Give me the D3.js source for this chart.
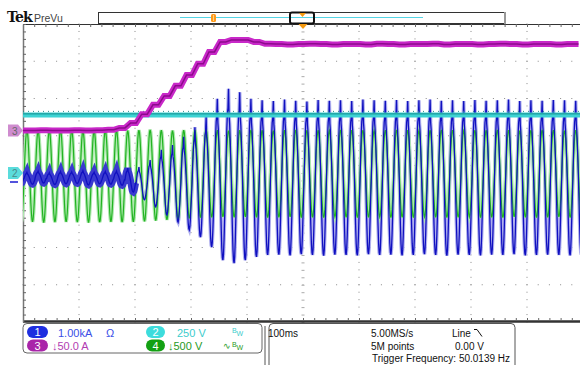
<!DOCTYPE html>
<html>
<head>
<meta charset="utf-8">
<script src="https://cdn.jsdelivr.net/npm/d3@7"></script>
<style>
  body { margin: 0; background: #fff; }
  svg { display: block; font-family: "Liberation Sans", Arial, sans-serif; }
</style>
</head>
<body>
<svg id="scope" width="580" height="365"></svg>
<script>
// ---- data (vertical values in divisions, time in ms) ----
const cycleMs = 20;            // 50 Hz
const firstCycleStart = -18;   // ms, cycle 0 starts just left of the screen

// one cycle of each waveform, normalised to -1 (trough) .. 1 (crest)
const blueShape  = [0, 0.3, 0.55, 0.72, 0.78, 1.0, 0.7, 0.6, 0.42, 0.2, -0.05, -0.35, -0.62, -0.85, -0.97, -1.0, -0.93, -0.75, -0.5, -0.25];
const greenShape = [0, 0.31, 0.59, 0.81, 0.95, 1, 0.95, 0.81, 0.59, 0.31, 0, -0.31, -0.59, -0.81, -0.95, -1, -0.95, -0.81, -0.59, -0.31];

// ch1 (blue) crest / trough per cycle
const blueHi = [0.04, 0.02, 0.05, 0.01, 0.04, 0.03, 0.06, 0.02, 0.04, 0.05,
  0.13, 0.16, 0.35, 0.62, 0.75, 0.97, 1.23, 1.50, 1.99, 2.26, 2.17, 1.99,
  1.95, 1.93, 1.97, 1.94, 1.92, 1.96, 1.94, 1.95, 1.93, 1.97, 1.95, 1.94, 1.96, 1.93, 1.95,
  1.97, 1.94, 1.95, 1.93, 1.96, 1.94, 1.95, 1.97, 1.93, 1.95, 1.94, 1.96, 1.95, 1.94];
const blueLo = [-0.28, -0.30, -0.27, -0.31, -0.29, -0.28, -0.32, -0.29, -0.30, -0.33,
  -0.51, -0.72, -0.91, -1.13, -1.32, -1.53, -1.72, -1.99, -2.34, -2.42, -2.34, -2.25,
  -2.20, -2.19, -2.21, -2.18, -2.20, -2.22, -2.19, -2.20, -2.21, -2.18, -2.20, -2.19, -2.21, -2.20, -2.18,
  -2.20, -2.22, -2.19, -2.20, -2.21, -2.19, -2.20, -2.18, -2.21, -2.20, -2.19, -2.20, -2.21, -2.19];

// ch4 (green) crest / trough per cycle
const greenHi = [1.15, 1.16, 1.14, 1.15, 1.16, 1.15, 1.14, 1.15, 1.16, 1.15,
  1.14, 1.15, 1.16, 1.15, 1.14, 1.15, 1.15, 1.16, 1.15, 1.14, 1.15, 1.16,
  1.15, 1.14, 1.15, 1.16, 1.15, 1.15, 1.14, 1.16, 1.15, 1.15, 1.14, 1.15, 1.16, 1.15, 1.14,
  1.15, 1.16, 1.15, 1.14, 1.15, 1.15, 1.16, 1.15, 1.14, 1.15, 1.16, 1.15, 1.14, 1.15];
const greenLo = [-1.32, -1.31, -1.33, -1.32, -1.31, -1.32, -1.33, -1.32, -1.31, -1.32,
  -1.31, -1.30, -1.28, -1.26, -1.24, -1.22, -1.20, -1.19, -1.18, -1.19, -1.18, -1.19,
  -1.20, -1.19, -1.18, -1.20, -1.19, -1.20, -1.18, -1.19, -1.20, -1.19, -1.18, -1.20, -1.19, -1.20, -1.18,
  -1.19, -1.20, -1.19, -1.18, -1.20, -1.19, -1.20, -1.18, -1.19, -1.20, -1.19, -1.18, -1.20, -1.19];

// ch3 (magenta) level reached in each cycle
const magentaLevel = [1.14, 1.14, 1.15, 1.14, 1.14, 1.15, 1.14, 1.15, 1.16,
  1.21, 1.34, 1.58, 1.83, 2.07, 2.34, 2.63, 2.93, 3.25, 3.52, 3.57, 3.57, 3.52, 3.47,
  3.46, 3.45, 3.46, 3.47, 3.46, 3.45, 3.46, 3.46, 3.45, 3.47, 3.46, 3.45, 3.46, 3.46,
  3.47, 3.45, 3.46, 3.46, 3.45, 3.46, 3.47, 3.46, 3.45, 3.46, 3.46, 3.45, 3.46, 3.46];

// ch2 (cyan) DC level
const cyanTime  = [0, 1000];
const cyanLevel = [1.56, 1.56];

// readouts
const chanNums   = ['1', '2', '3', '4'];
const chanScales = ['1.00kA', '250 V', '\u219350.0 A', '\u2193500 V'];
const horizText  = ['100ms', '5.00MS/s', '5M points', 'Line', '0.00 V', 'Trigger Frequency: 50.0139 Hz'];

// ---- scales ----
const svg = d3.select('#scope');
const x = d3.scaleLinear().domain([0, 1000]).range([23, 583]);
const y = d3.scaleLinear().domain([-4, 4]).range([322, 24]);

svg.append('defs').append('clipPath').attr('id', 'plot')
  .append('rect').attr('x', 23).attr('y', 24).attr('width', 560).attr('height', 298);

// ---- graticule ----
const grid = svg.append('g');
const minorT = d3.range(0, 1001, 20);
const minorV = d3.range(-4, 4.001, 0.2);
d3.range(100, 1000, 100).filter(t => t !== 500).forEach(t => {
  grid.selectAll(null).data(minorV).enter().append('rect')
    .attr('x', x(t) - 0.5).attr('y', v => y(v) - 0.5).attr('width', 1).attr('height', 1).attr('fill', '#8a8a8a');
});
d3.range(-3, 4, 1).filter(v => v !== 0).forEach(v => {
  grid.selectAll(null).data(minorT).enter().append('rect')
    .attr('x', t => x(t) - 0.5).attr('y', y(v) - 0.5).attr('width', 1).attr('height', 1).attr('fill', '#8a8a8a');
});
// centre cross ticks
grid.append('g').attr('transform', `translate(0,${y(0) - 1.5})`)
  .call(d3.axisBottom(x).tickValues(minorT).tickSize(3).tickFormat('').tickSizeOuter(0))
  .call(g => g.select('.domain').remove())
  .selectAll('line').attr('stroke', '#aaa');
grid.append('g').attr('transform', `translate(${x(500) - 1.5},0)`)
  .call(d3.axisRight(y).tickValues(minorV).tickSize(3).tickFormat('').tickSizeOuter(0))
  .call(g => g.select('.domain').remove())
  .selectAll('line').attr('stroke', '#aaa');
// edges
grid.append('g').attr('transform', 'translate(0,24)')
  .call(d3.axisBottom(x).tickValues(minorT).tickSize(3).tickFormat('').tickSizeOuter(0))
  .call(g => g.select('.domain').attr('stroke', '#333'))
  .selectAll('line').attr('stroke', '#666');
grid.append('g').attr('transform', 'translate(0,321)')
  .call(d3.axisTop(x).tickValues(minorT).tickSize(3).tickFormat('').tickSizeOuter(0))
  .call(g => g.select('.domain').attr('stroke', '#333').attr('stroke-width', 2.5))
  .selectAll('line').attr('stroke', '#666');
grid.append('g').attr('transform', 'translate(23,0)')
  .call(d3.axisRight(y).tickValues(minorV).tickSize(3).tickFormat('').tickSizeOuter(0))
  .call(g => g.select('.domain').attr('stroke', '#777').attr('stroke-width', 1.5))
  .selectAll('line').attr('stroke', '#666');

// ---- traces ----
function wavePoints(hi, lo, shape) {
  const pts = [];
  hi.forEach((h, k) => {
    const t0 = firstCycleStart + k * cycleMs;
    shape.forEach((s, i) => {
      pts.push([t0 + i * cycleMs / shape.length, lo[k] + (s + 1) / 2 * (h - lo[k])]);
    });
  });
  return pts;
}
function stepPoints(levels) {
  const pts = [];
  levels.forEach((L, k) => {
    const t0 = firstCycleStart + k * cycleMs;
    const prev = k > 0 ? levels[k - 1] : L;
    pts.push([t0, prev], [t0 + cycleMs / 2, L]);
  });
  return pts;
}
const line = d3.line().x(d => x(d[0])).y(d => y(d[1]));
const traces = svg.append('g').attr('clip-path', 'url(#plot)').attr('fill', 'none');

const bluePts = wavePoints(blueHi, blueLo, blueShape);
const greenPts = wavePoints(greenHi, greenLo, greenShape);
const earlyBlue = bluePts.slice(0, 11 * blueShape.length);

traces.append('path').attr('d', line(bluePts)).attr('stroke', '#b0b0ee').attr('stroke-width', 3.5);
traces.append('path').attr('d', line(greenPts)).attr('stroke', '#aee8ae').attr('stroke-width', 3.5);
traces.append('path').attr('d', line(greenPts)).attr('stroke', '#22b322').attr('stroke-width', 1.2);
traces.append('path').attr('d', line(earlyBlue)).attr('stroke', '#3a3ad0').attr('stroke-width', 7);
traces.append('path').attr('d', line(bluePts)).attr('stroke', '#1010c0').attr('stroke-width', 1.3);

const cyanPts = cyanTime.map((t, i) => [t, cyanLevel[i]]);
traces.append('path').attr('d', line(cyanPts)).attr('stroke', '#3dd3d3').attr('stroke-width', 5);
traces.append('path').attr('d', line(cyanPts)).attr('stroke', '#158f8f').attr('stroke-width', 1)
  .attr('transform', 'translate(0,-1)');
traces.append('path').attr('d', line(cyanPts)).attr('stroke', '#2a8a8a').attr('stroke-width', 1)
  .attr('stroke-dasharray', '1,4').attr('transform', 'translate(0,-3.5)');

const magPts = stepPoints(magentaLevel);
traces.append('path').attr('d', line(magPts)).attr('stroke', '#c828c8').attr('stroke-width', 6);
traces.append('path').attr('d', line(magPts)).attr('stroke', '#8c0a8c').attr('stroke-width', 1.5);

// ---- channel markers on the left ----
const mk = svg.append('g');
mk.append('path').attr('d', `M8,${y(magentaLevel[0]) - 6}h10l5,6l-5,6h-10z`).attr('fill', '#cf8ccf');
mk.append('text').attr('x', 12).attr('y', y(magentaLevel[0]) + 4).attr('font-size', 10).attr('fill', '#666').text(chanNums[2]);
mk.append('path').attr('d', `M8,${y(0) - 6}h10l5,6l-5,6h-10z`).attr('fill', '#5adcdc');
mk.append('text').attr('x', 12).attr('y', y(0) + 4).attr('font-size', 10).attr('fill', '#4a8a8a').text(chanNums[1]);
mk.append('line').attr('x1', 10).attr('x2', 18).attr('y1', y(0) + 9).attr('y2', y(0) + 9).attr('stroke', '#1a1ad0').attr('stroke-width', 1.5);

// ---- top bar ----
const header = svg.append('g');
header.append('text').attr('x', 7).attr('y', 22).attr('font-family', '"DejaVu Serif", serif').attr('font-weight', 'bold')
  .attr('font-size', 14).attr('letter-spacing', -0.8).attr('fill', '#111').text('Tek');
header.append('text').attr('x', 34).attr('y', 21.5).attr('font-size', 10.5).attr('fill', '#444').text('PreVu');
header.append('rect').attr('x', 98.5).attr('y', 12.5).attr('width', 406).attr('height', 11).attr('fill', '#fff').attr('stroke', '#333');
header.append('line').attr('x1', 505).attr('x2', 505).attr('y1', 12).attr('y2', 24).attr('stroke', '#999').attr('stroke-width', 2);
header.append('line').attr('x1', 180).attr('x2', 423).attr('y1', 17.5).attr('y2', 17.5).attr('stroke', '#55d5e5').attr('stroke-width', 1);
header.append('rect').attr('x', 211).attr('y', 14).attr('width', 5).attr('height', 8).attr('rx', 1.5).attr('fill', '#ff9a1a');
header.append('line').attr('x1', 213.5).attr('x2', 213.5).attr('y1', 15).attr('y2', 21).attr('stroke', '#ffe0a0').attr('stroke-width', 0.8);
header.append('rect').attr('x', 290).attr('y', 12.5).attr('width', 24).attr('height', 11).attr('rx', 2).attr('fill', 'none').attr('stroke', '#111').attr('stroke-width', 2);
header.append('path').attr('d', 'M299,13h7l-3.5,4z').attr('fill', '#f59a10');
header.append('path').attr('d', `M${x(500) - 4.5},24h9l-4.5,5z`).attr('fill', '#f59a10');

// ---- bottom readouts ----
const bot = svg.append('g');
bot.append('path').attr('d', 'M27,323.5H258a4,4 0 0 1 4,4V349a4,4 0 0 1 -4,4H27a4,4 0 0 1 -4,-4V327.5a4,4 0 0 1 4,-4z')
  .attr('fill', '#fff').attr('stroke', '#666');
bot.append('path').attr('d', 'M269,366V327.5a4,4 0 0 1 4,-4H511a4,4 0 0 1 4,4V366').attr('fill', 'none').attr('stroke', '#555');
bot.append('line').attr('x1', 265).attr('x2', 265).attr('y1', 326).attr('y2', 366).attr('stroke', '#555');

const pills = [
  { n: chanNums[0], px: 27, py: 326, fill: '#1e2ee0', s: chanScales[0], sx: 58, col: '#3a4ee6' },
  { n: chanNums[1], px: 146, py: 326, fill: '#3ddcdc', s: chanScales[1], sx: 177, col: '#3ccccc' },
  { n: chanNums[2], px: 27, py: 339.5, fill: '#a925a9', s: chanScales[2], sx: 52, col: '#b23cb2' },
  { n: chanNums[3], px: 146, py: 339.5, fill: '#13a013', s: chanScales[3], sx: 168, col: '#1f9a1f' }
];
pills.forEach(p => {
  const wide = p.n === '1' || p.n === '3';
  bot.append('rect').attr('x', p.px).attr('y', p.py).attr('width', wide ? 21 : 19).attr('height', 12)
    .attr('rx', 6).attr('fill', p.fill);
  bot.append('text').attr('x', p.px + (wide ? 10.5 : 9.5)).attr('y', p.py + 10).attr('text-anchor', 'middle')
    .attr('font-size', 11).attr('fill', '#fff').text(p.n);
  bot.append('text').attr('x', p.sx).attr('y', p.py + 10.5).attr('font-size', 11).attr('fill', p.col).text(p.s);
});
bot.append('text').attr('x', 106).attr('y', 336.5).attr('font-size', 11).attr('fill', '#3a4ee6').text('\u03A9');
bot.append('text').attr('x', 232).attr('y', 333).attr('font-size', 7).attr('fill', '#3ccccc').text('B');
bot.append('text').attr('x', 236.5).attr('y', 336).attr('font-size', 7).attr('fill', '#3ccccc').text('W');
bot.append('text').attr('x', 223).attr('y', 349).attr('font-size', 9).attr('fill', '#1f9a1f').text('\u223F');
bot.append('text').attr('x', 232).attr('y', 346.5).attr('font-size', 7).attr('fill', '#1f9a1f').text('B');
bot.append('text').attr('x', 236.5).attr('y', 349.5).attr('font-size', 7).attr('fill', '#1f9a1f').text('W');

const hx = [268, 371, 371, 452, 455, 372];
const hy = [337, 337, 349.5, 337, 349.5, 362];
horizText.forEach((t, i) => {
  bot.append('text').attr('x', hx[i]).attr('y', hy[i]).attr('font-size', 10).attr('fill', '#111').text(t);
});
bot.append('path').attr('d', 'M474,329.5h3l5,7').attr('fill', 'none').attr('stroke', '#111').attr('stroke-width', 1);
</script>
</body>
</html>
